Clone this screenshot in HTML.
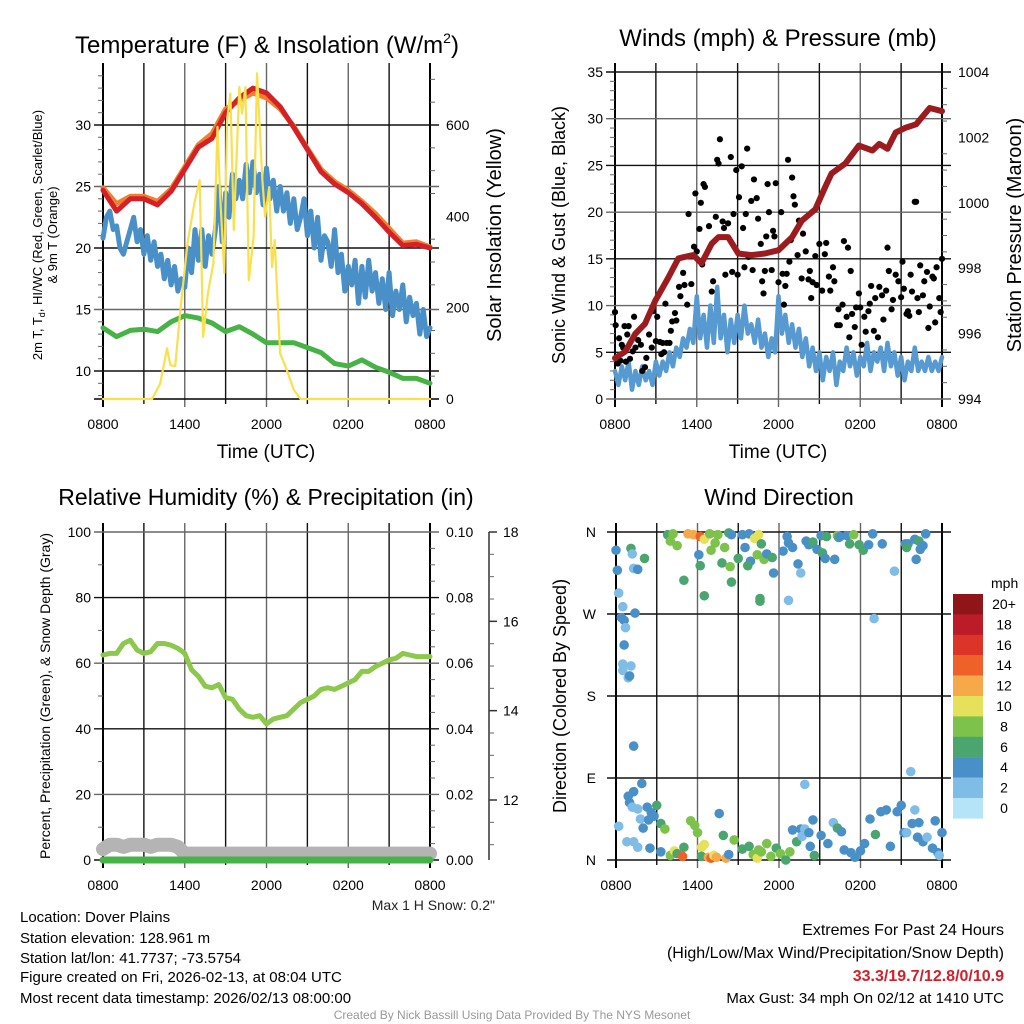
<!DOCTYPE html>
<html><head><meta charset="utf-8">
<style>
html,body{margin:0;padding:0;background:#fff;}
svg{display:block;font-family:"Liberation Sans",Arial,sans-serif;}
</style></head>
<body>
<svg id="c" width="1024" height="1024" viewBox="0 0 1024 1024" xmlns="http://www.w3.org/2000/svg">
<rect width="1024" height="1024" fill="#fff"/>
<text x="267" y="53" font-size="24" text-anchor="middle">Temperature (F) &amp; Insolation (W/m<tspan font-size="14" dy="-10">2</tspan><tspan dy="10">)</tspan></text>
<text x="778" y="46" font-size="24" text-anchor="middle">Winds (mph) &amp; Pressure (mb)</text>
<text x="266" y="505" font-size="23" text-anchor="middle">Relative Humidity (%) &amp; Precipitation (in)</text>
<text x="779" y="505" font-size="23" text-anchor="middle">Wind Direction</text>
<text x="266" y="458" font-size="19" text-anchor="middle">Time (UTC)</text>
<text x="778" y="458" font-size="19" text-anchor="middle">Time (UTC)</text>
<text transform="translate(42,235) rotate(-90)" font-size="13" text-anchor="middle">2m T, T<tspan font-size="9" dy="3">d</tspan><tspan dy="-3">, HI/WC (Red, Green, Scarlet/Blue)</tspan></text>
<text transform="translate(57,235) rotate(-90)" font-size="13" text-anchor="middle">&amp; 9m T (Orange)</text>
<text transform="translate(501,235) rotate(-90)" font-size="20" text-anchor="middle">Solar Insolation (Yellow)</text>
<text transform="translate(565,235) rotate(-90)" font-size="18" text-anchor="middle">Sonic Wind &amp; Gust (Blue, Black)</text>
<text transform="translate(1021,235) rotate(-90)" font-size="20" text-anchor="middle">Station Pressure (Maroon)</text>
<text transform="translate(50,696) rotate(-90)" font-size="14" text-anchor="middle">Percent, Precipitation (Green), &amp; Snow Depth (Gray)</text>
<text transform="translate(566,696) rotate(-90)" font-size="18" text-anchor="middle">Direction (Colored By Speed)</text>
<text x="495" y="910" font-size="14" text-anchor="end" fill="#222">Max 1 H Snow: 0.2"</text>
<g font-size="15">
<text x="20" y="922">Location: Dover Plains</text>
<text x="20" y="943">Station elevation: 128.961 m</text>
<text x="20" y="963">Station lat/lon: 41.7737; -73.5754</text>
<text x="20" y="982">Figure created on Fri, 2026-02-13, at 08:04 UTC</text>
<text x="20" y="1003">Most recent data timestamp: 2026/02/13 08:00:00</text>
</g>
<g font-size="16" text-anchor="end">
<text x="1004" y="935">Extremes For Past 24 Hours</text>
<text x="1004" y="958">(High/Low/Max Wind/Precipitation/Snow Depth)</text>
<text x="1004" y="981" fill="#d0202a" font-weight="bold">33.3/19.7/12.8/0/10.9</text>
<text x="1004" y="1003" font-size="15">Max Gust: 34 mph On 02/12 at 1410 UTC</text>
</g>
<text x="512" y="1019" font-size="12" fill="#999" text-anchor="middle">Created By Nick Bassill Using Data Provided By The NYS Mesonet</text>
</svg>
<script>
// ---------- DATA ----------
const hourTimes = [0,1,2,3,4,5,6,7,8,9,10,11,12,13,14,15,16,17,18,19,20,21,22,23,24];
const tempRed = [24.7,23.0,24.0,24.0,23.5,24.6,26.4,28.2,28.9,31.0,32.2,33.0,32.6,31.5,29.8,28.0,26.2,25.2,24.5,23.6,22.5,21.3,20.2,20.3,20.0];
const temp9m = [24.9,23.6,24.2,24.2,23.8,24.8,26.6,28.4,29.3,31.3,32.0,32.6,32.2,31.3,29.9,28.1,26.4,25.4,24.7,23.8,22.8,21.6,20.4,20.5,20.1];
const dewGreen = [13.5,12.8,13.3,13.4,13.2,14.0,14.5,14.3,13.9,13.2,13.6,13.0,12.3,12.3,12.3,11.9,11.5,10.6,10.4,10.9,10.3,9.9,9.4,9.4,9.0];
const halfTimes = [0,0.5,1,1.5,2,2.5,3,3.5,4,4.5,5,5.5,6,6.5,7,7.5,8,8.5,9,9.5,10,10.5,11,11.5,12,12.5,13,13.5,14,14.5,15,15.5,16,16.5,17,17.5,18,18.5,19,19.5,20,20.5,21,21.5,22,22.5,23,23.5,24];
const quarterTimes = [0,0.25,0.5,0.75,1,1.25,1.5,1.75,2,2.25,2.5,2.75,3,3.25,3.5,3.75,4,4.25,4.5,4.75,5,5.25,5.5,5.75,6,6.25,6.5,6.75,7,7.25,7.5,7.75,8,8.25,8.5,8.75,9,9.25,9.5,9.75,10,10.25,10.5,10.75,11,11.25,11.5,11.75,12,12.25,12.5,12.75,13,13.25,13.5,13.75,14,14.25,14.5,14.75,15,15.25,15.5,15.75,16,16.25,16.5,16.75,17,17.25,17.5,17.75,18,18.25,18.5,18.75,19,19.25,19.5,19.75,20,20.25,20.5,20.75,21,21.25,21.5,21.75,22,22.25,22.5,22.75,23,23.25,23.5,23.75,24];
const chillBlue = [20.8,22.5,23,21.5,21.8,20,19.5,20.5,21.5,22.5,20.5,21.5,19.5,21,19,20.5,18.5,19.5,17.5,19,17,18.5,16.5,17.5,16.8,20,18,21.5,19,21.5,18.5,21,19.5,21.5,25,20.5,24.5,22.5,26,24,25.5,24,26.8,24.5,27,24.5,26,23.5,26.5,24,25.5,23,25,23,24.5,22,24,21.5,22.5,24,21,23,20,22.5,19,21,20.5,18.5,21.5,18,19.5,16.5,18.5,17,19,15.5,18.5,16,19,16.5,18,15.5,17.5,15,18,14.5,16.5,15,17,14,16,14.5,15.5,13,15,12.8,13.5];
const solarTimes = [0,3.6,4.2,4.7,4.95,5.3,5.7,6.2,6.7,7.1,7.35,7.7,8.1,8.4,8.6,8.9,9.1,9.35,9.6,10,10.2,10.45,10.7,11.05,11.3,11.7,11.9,12.2,12.4,12.6,13,13.5,14,14.5,24];
const solarVals = [0,0,34,111,74,72,202,341,428,479,136,232,297,596,443,276,610,669,370,683,625,683,260,355,713,479,399,464,289,348,100,63,20,0,0];
const windBlue = [3,1.5,3.5,2,4,1,3,1.5,3.5,2,3,1.5,4,2.5,4,3,5,3.5,5.5,4.5,6.5,5.5,7.5,6,11,6.5,9,5.5,10,6,12,6.5,9,5,8.5,6,9,6.5,10,7,8,6,8.5,5.5,7,4.5,6.5,5,11,7,9,6,8,5.5,7.5,4.5,6.5,3.5,5.5,3,5,2,4.5,3,5,1.5,4,3,5.5,3.5,5,2.5,4.5,3.5,6,3,5,4,5.5,3,6,3.5,5,2.5,4.5,2,4,3,5.5,3,4,3,4.5,3,4,3,4.5];
const pressTimes = [0,0.75,1.5,2.2,2.95,3.9,4.65,5.15,5.75,6.35,7.1,7.6,8.3,9.05,10,11,12,13,13.7,14.7,15.45,15.9,16.9,17.9,18.9,19.4,20,20.6,21.35,22.1,23.1,24];
const pressVals = [995.25,995.45,996.0,996.3,997.0,997.7,998.3,998.35,998.4,998.15,998.75,998.95,998.95,998.45,998.4,998.45,998.55,998.95,999.45,999.8,1000.5,1000.9,1001.2,1001.75,1001.6,1001.8,1001.65,1002.15,1002.3,1002.4,1002.9,1002.8];
const gustTimes = [0,0.05,0.2,0.3,0.4,0.5,0.6,0.7,0.8,0.9,1,1.1,1.3,1.4,1.5,1.7,1.9,2,2.2,2.3,2.5,2.7,2.8,3,3.1,3.3,3.4,3.5,3.6,3.7,3.8,4,4.1,4.2,4.4,4.5,4.7,4.8,5,5.1,5.3,5.4,5.6,5.8,5.9,6,6.2,6.3,6.4,6.5,6.6,6.9,7.1,7.2,7.4,7.5,7.6,7.7,7.9,8,8.1,8.3,8.5,8.6,8.7,8.9,9,9.1,9.3,9.4,9.5,9.6,9.7,9.8,10,10.1,10.2,10.4,10.5,10.7,10.8,10.9,11,11.1,11.2,11.3,11.5,11.6,11.7,11.8,12,12.2,12.3,12.4,12.5,12.6,12.7,12.8,12.9,13,13.1,13.2,13.4,13.5,13.7,13.8,14,14.2,14.3,14.4,14.5,14.7,14.8,15,15.2,15.4,15.5,15.7,15.8,16,16.1,16.3,16.4,16.5,16.7,16.8,17,17.1,17.2,17.3,17.4,17.6,17.7,17.9,18,18.1,18.3,18.4,18.6,18.7,18.8,19,19.1,19.3,19.4,19.6,19.7,19.9,20,20.1,20.3,20.4,20.6,20.8,21,21.1,21.2,21.4,21.5,21.6,21.7,21.8,22,22.1,22.2,22.3,22.4,22.6,22.7,22.9,23,23.1,23.3,23.4,23.5,23.6,23.8,23.9,24];
const gustVals = [9.3,7.9,3.8,6.5,4.1,5.8,5.5,7.8,4.0,6.9,7.8,4.3,5.1,8.8,5.5,6.3,5.8,3.0,3.4,4.4,6.9,5.5,9.4,6.2,8.8,6.1,4.8,6.0,5.0,10.2,6.0,6.0,7.3,8.3,9.2,8.4,12.0,11.0,13.5,12.2,10.1,19.8,12.3,16.3,22.0,15.8,18.2,21.0,14.4,23.0,22.7,18.5,11.5,12.6,19.5,25.6,25.2,27.8,19.0,18.3,13.3,18.8,25.9,13.6,19.8,24.5,13.3,21.6,24.9,18.3,14.1,19.8,26.8,15.2,21.2,13.8,23.5,21.5,19.3,16.6,12.6,11.3,13.7,17.4,23.0,20.0,13.8,18.0,17.4,23.1,12.5,20.0,13.4,10.1,12.1,13.4,25.6,14.7,17.0,23.7,21.7,20.8,15.4,19.1,12.9,17.7,15.8,12.8,13.7,10.8,12.5,15.3,12.2,16.6,11.6,15.5,16.7,13.1,11.6,14.1,12.6,7.9,9.6,7.9,10.1,16.9,8.8,16.2,6.6,13.7,9.1,7.7,9.8,11.3,9.8,5.8,8.8,7.2,9.4,10.2,12.1,7.3,10.8,6.6,12.0,11.1,8.5,11.6,16.2,13.7,9.6,10.6,13.3,12.6,10.9,14.7,11.8,9.1,9.4,8.9,13.3,11.5,21.1,21.1,10.8,9.3,14.3,11.1,12.6,13.6,7.6,9.9,13.1,12.9,8.2,14.1,10.8,9.3,15.0];
const rhVals = [62.5,63,63,66,67,64,63,63.5,66,66,65.5,64.5,63,58,56,53,52.5,53.5,49.5,49,46,44,43.5,44,41.5,43,43.5,44,46,48,49,50,52,52.5,52,53,54,55,57.5,57.5,59,60,61,61.5,63,62.5,62,62,62];
const precipVals = [0,0,0,0,0,0,0,0,0,0,0,0,0,0,0,0,0,0,0,0,0,0,0,0,0];
const snowVals = [10.9,11.0,11.0,10.95,11.0,11.0,11.0,10.95,11.0,11.0,11.0,10.95,10.8,10.8,10.8,10.8,10.8,10.8,10.8,10.8,10.8,10.8,10.8,10.8,10.8,10.8,10.8,10.8,10.8,10.8,10.8,10.8,10.8,10.8,10.8,10.8,10.8,10.8,10.8,10.8,10.8,10.8,10.8,10.8,10.8,10.8,10.8,10.8,10.8];
const dirTimes = [0,0.1,0.2,0.4,0.5,0.6,0.7,0.6,0.5,0.5,0.9,1,1.1,1.3,1.1,1.2,1.6,1.4,2.1,1.3,1.9,1.3,1,0.9,1.2,1.6,1.8,2.3,2.6,3,2.4,2,0.2,0.8,1.3,1.6,2.5,2.8,3.3,3.6,3.3,4,4.3,4.5,4.9,5,5.5,5.8,6,6.3,6.5,6.3,6.8,7,7.2,7.4,7.6,7.9,8.1,8.3,8.7,9.3,9.8,10.1,10.4,10.5,10.7,11.1,11.4,11.8,12.1,12.5,12.8,13,13.3,13.6,13.7,13.9,14.2,14.5,14.3,14.6,15.1,15.6,16,16.3,16.6,16.8,17.3,17.6,18,18.3,18.7,19.1,19.5,19.9,20.2,20.7,21,21.2,21.4,21.8,22,22.2,22.6,22.9,23.3,23.7,23.8,24,23.5,22.3,21.7,13.9,3.8,4,4.5,4.2,5.3,5.7,6.2,6.5,6.9,6.1,6.2,7,7.5,7.3,7.8,8.3,8.5,8,8.4,8.5,9,9.3,9.5,9.8,9.9,9.7,10.2,10.5,10.4,10.7,10.9,11.1,11.5,11.6,12.3,12.6,12.7,13,13.4,13.6,14,14.2,14.5,14.8,15.1,15.2,15.4,15.5,16.3,16.4,16.1,16.5,17,17.2,17.5,17.9,18.2,19.6,18.6,18.9,21.3,21.5,22,22.4,22.1,22.3,22.6,22.8,12.7,19,20.5,21.4,5,6.5,10.6,10.6];
const dirDegs = [340,318,293,266,278,263,255,236,215,208,200,202,213,320,342,336,319,271,331,125,84,75,63,70,58,56,45,58,52,60,44,35,37,20,20,14,13,48,40,34,9,5,10,7,4,14,43,38,30,14,17,4,3,2,5,3,51,27,2,6,22,12,15,6,2,11,9,18,4,13,7,0,9,33,20,34,26,34,30,44,15,5,27,18,41,35,31,11,8,3,10,18,45,28,53,55,15,53,60,30,30,40,55,25,20,25,13,8,5,30,43,41,97,83,357,350,345,358,358,357,355,352,358,335,323,340,357,348,326,359,357,343,322,305,331,357,343,358,328,323,353,357,335,347,330,336,332,315,339,355,348,343,325,315,350,346,349,341,356,337,331,355,356,354,330,355,356,347,357,346,340,347,346,358,347,347,352,341,330,350,345,358,285,265,317,343,307,290,284,287];
const dirSpeeds = [3,3,2,3,2,3,2,3,2,2,1,3,2,2,5,1,3,3,5,4,3,4,3,4,1,2,2,4,4,5,3,3,2,2,2,2,4,4,6,7,4,7,9,6,13,5,8,7,8,9,10,6,12,13,10,12,4,6,11,4,8,6,6,8,10,7,7,8,7,6,7,5,7,4,6,3,2,2,3,4,3,6,4,4,2,6,4,4,4,3,4,4,4,6,4,3,4,4,4,3,2,3,2,4,4,2,4,4,2,4,4,3,2,1,6,8,8,7,11,12,14,10,8,4,6,8,8,8,6,6,4,8,8,6,6,4,4,4,4,6,10,10,8,6,8,4,6,4,4,4,4,4,3,2,4,4,6,4,4,6,3,6,8,6,4,4,3,6,8,6,6,3,4,4,3,3,4,4,4,6,3,4,2,2,2,6,5,6,6,6];
const legendLabels = ["20+","18","16","14","12","10","8","6","4","2","0"];
const speedColors = ["#b5e4f8","#80bde6","#4a90c8","#4aa56e","#7cc24b","#e6e15a","#f6a948","#ee6229","#dc3428","#bc1c27","#8f1519"];
const tempTicks = [10,15,20,25,30];
const solarTicks = [0,200,400,600];
const windTicks = [0,5,10,15,20,25,30,35];
const pressTicks = [994,996,998,1000,1002,1004];
const rhTicks = [0,20,40,60,80,100];
const precipTicks = ["0.00","0.02","0.04","0.06","0.08","0.10"];
const snowTicks = [12,14,16,18];
const dirLabels = ["N","E","S","W","N"];
const timeLabels = ["0800","1400","2000","0200","0800"];

// ---------- HELPERS ----------
const svg = document.getElementById('c');
const NS = 'http://www.w3.org/2000/svg';
function mk(tag, attrs, parent){
  const e = document.createElementNS(NS, tag);
  for (const k in attrs) e.setAttribute(k, attrs[k]);
  (parent||svg).appendChild(e);
  return e;
}
function lin(d0,d1,r0,r1){ return v => r0 + (v-d0)/(d1-d0)*(r1-r0); }

function frame(P, name){
  const g = mk('g', {});
  
  
  for (let h=0; h<=24; h+=3){
    const x = P.x(h);
    const l = mk('line',{x1:x,x2:x,y1:P.y0-9,y2:P.y1+(h%6===0?8:5),stroke: (h===0||h===24)?'#000':(h%6===0?'#666':'#111'),'stroke-width':(h===0||h===24)?2:1.4}, g);
    
    
  }
  for (let i=0;i<timeLabels.length;i++){
    const t = mk('text',{x:P.x(i*6),y:P.y1+30,'font-size':14,'text-anchor':'middle'}, g);
    t.textContent = timeLabels[i];
    
    
  }
  return g;
}
function hgrid(g, P, yv, color){
  const l = mk('line',{x1:P.x0-9,x2:P.x1+9,y1:yv,y2:yv,stroke:color||'#222','stroke-width':1.4}, g);
  
  
}
function tickText(g, x, y, s, anchor){
  const t = mk('text',{x:x,y:y+5,'font-size':14,'text-anchor':anchor}, g);
  t.textContent = s;
  
  
}
function minor(g, x, y, len){
  const l = mk('line',{x1:x,x2:x+len,y1:y,y2:y,stroke:'#666','stroke-width':1}, g);
  
  
}
function pathFrom(ts, vs, xf, yf){
  let d='';
  for (let i=0;i<ts.length;i++) d += (i?'L':'M') + xf(ts[i]).toFixed(1) + ' ' + yf(vs[i]).toFixed(1);
  return d;
}

// ---------- PANEL 1 ----------
const P1 = {x0:103,x1:430,y0:72,y1:399};
P1.x = lin(0,24,P1.x0,P1.x1);
const yT = lin(10,30,371,125);
const yS = lin(0,600,399,125);
const g1 = frame(P1,'temperature');
tempTicks.forEach((v,i)=>{ hgrid(g1,P1,yT(v), i%2?'#666':'#111'); tickText(g1,P1.x0-12,yT(v),String(v),'end'); });
for (let v=8; v<=34; v+=1) if (v%5) minor(g1,P1.x0-5,yT(v),5);
solarTicks.forEach(v=>{ tickText(g1,P1.x1+16,yS(v),String(v),'start'); });
for (let v=50; v<=700; v+=50) if (v%200) minor(g1,P1.x1,yS(v),5);
{
  const b = mk('line',{x1:P1.x0-9,x2:P1.x1+9,y1:P1.y1,y2:P1.y1,stroke:'#000','stroke-width':1.4},g1);
  
  
}
const s1 = mk('g',{'stroke-linejoin':'round','stroke-linecap':'round',fill:'none'});


let e;
e = mk('path',{d:pathFrom(quarterTimes,chillBlue,P1.x,yT),stroke:'#4a90c8','stroke-width':5},s1);


e = mk('path',{d:pathFrom(hourTimes,dewGreen,P1.x,yT),stroke:'#47b245','stroke-width':5},s1);


e = mk('path',{d:pathFrom(hourTimes,temp9m,P1.x,yT),stroke:'#f08030','stroke-width':5},s1);


e = mk('path',{d:pathFrom(hourTimes,tempRed,P1.x,yT),stroke:'#d42027','stroke-width':5},s1);


e = mk('path',{d:pathFrom(solarTimes,solarVals,P1.x,yS),stroke:'#f8e04e','stroke-width':2.2},s1);



// ---------- PANEL 2 ----------
const P2 = {x0:615,x1:942,y0:72,y1:399};
P2.x = lin(0,24,P2.x0,P2.x1);
const yW = lin(0,35,399,72);
const yP = lin(994,1004,399,72);
const g2 = frame(P2,'winds');
windTicks.forEach((v,i)=>{ hgrid(g2,P2,yW(v), i%2?'#111':'#666'); tickText(g2,P2.x0-12,yW(v),String(v),'end'); });
for (let v=1; v<35; v+=1) if (v%5) minor(g2,P2.x0-5,yW(v),5);
pressTicks.forEach(v=>{ tickText(g2,P2.x1+16,yP(v),String(v),'start'); });
for (let v=994.5; v<1004; v+=0.5) if (Math.round(v*2)%4) minor(g2,P2.x1,yP(v),5);
const s2 = mk('g',{fill:'none','stroke-linejoin':'round','stroke-linecap':'round'});


e = mk('path',{d:pathFrom(quarterTimes,windBlue,P2.x,yW),stroke:'#579ad2','stroke-width':4.5},s2);


for (let i=0;i<gustTimes.length;i++){
  const c = mk('circle',{cx:P2.x(gustTimes[i]),cy:yW(gustVals[i]),r:3.1,fill:'#000'},s2);
  
  
}
e = mk('path',{d:pathFrom(pressTimes,pressVals,P2.x,yP),stroke:'#9b1b1e','stroke-width':6},s2);



// ---------- PANEL 3 ----------
const P3 = {x0:103,x1:430,y0:532,y1:860};
P3.x = lin(0,24,P3.x0,P3.x1);
const yR = lin(0,100,860,532);
const yPr = lin(0,0.1,860,532);
const ySn = lin(12,18,800,532);
const g3 = frame(P3,'humidity');
rhTicks.forEach((v,i)=>{ hgrid(g3,P3,yR(v), i%2?'#666':'#111'); tickText(g3,P3.x0-12,yR(v),String(v),'end'); });
for (let v=10; v<100; v+=20) minor(g3,P3.x0-5,yR(v),5);
precipTicks.forEach(v=>{ tickText(g3,P3.x1+16,yPr(parseFloat(v)),v,'start'); });
for (let v=0.005; v<0.1; v+=0.005) if (Math.round(v*1000)%20) minor(g3,P3.x1,yPr(v),5);
{
  const ax = mk('line',{x1:489,x2:489,y1:532,y2:860,stroke:'#333','stroke-width':1.5},g3);
  
  
}
snowTicks.forEach(v=>{
  const l = mk('line',{x1:489,x2:497,y1:ySn(v),y2:ySn(v),stroke:'#333','stroke-width':1.5},g3);
  
  
  tickText(g3,503,ySn(v),String(v),'start');
});
for (let v=11; v<=17.5; v+=0.5) if (v%2) minor(g3,489,ySn(v),5);
const s3 = mk('g',{fill:'none','stroke-linejoin':'round','stroke-linecap':'round'});


e = mk('path',{d:pathFrom(halfTimes,snowVals,P3.x,ySn),stroke:'#b4b4b4','stroke-width':14},s3);


e = mk('path',{d:pathFrom(hourTimes,precipVals,P3.x,yPr),stroke:'#47b245','stroke-width':7},s3);


e = mk('path',{d:pathFrom(halfTimes,rhVals,P3.x,yR),stroke:'#8cc84b','stroke-width':5},s3);



// ---------- PANEL 4 ----------
const P4 = {x0:616,x1:942,y0:532,y1:860};
P4.x = lin(0,24,P4.x0,P4.x1);
const yD = lin(0,360,860,532);
const g4 = frame(P4,'wind-direction');
dirLabels.forEach((s,i)=>{ hgrid(g4,P4,yD(i*90), '#111'); tickText(g4,P4.x0-20,yD(i*90),s,'end'); });
const s4 = mk('g',{});


for (let i=0;i<dirTimes.length;i++){
  const idx = Math.max(0, Math.min(10, Math.round(dirSpeeds[i]/2)));
  const c = mk('circle',{cx:P4.x(dirTimes[i]),cy:yD(dirDegs[i]),r:4.8,fill:speedColors[idx]},s4);
  
  
}
const cb = mk('g',{});


const cbt = mk('text',{x:991,y:588,'font-size':14},cb);
cbt.textContent = 'mph';


for (let i=0;i<legendLabels.length;i++){
  const y = 594 + i*20.4;
  const r = mk('rect',{x:953,y:y,width:30,height:20.6,fill:speedColors[10-i]},cb);
  
  
  const t = mk('text',{x:1004,y:y+15,'font-size':14,'text-anchor':'middle'},cb);
  t.textContent = legendLabels[i];
  
  
}
</script>
</body></html>
